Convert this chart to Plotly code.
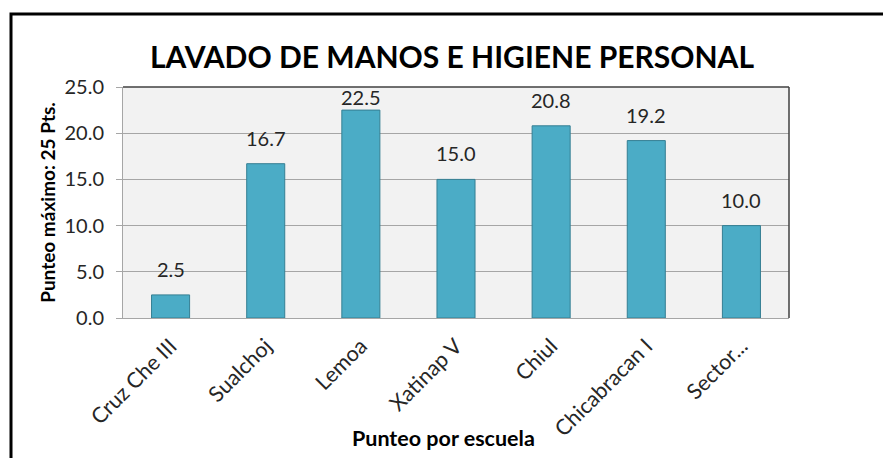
import plotly.graph_objects as go

categories = ["Cruz Che III", "Sualchoj", "Lemoa", "Xatinap V", "Chiul", "Chicabracan I", "Sector..."]
values = [2.5, 16.7, 22.5, 15.0, 20.8, 19.2, 10.0]
y_ticks = [0, 5, 10, 15, 20, 25]

W, H = 883, 458
L, R, T, B = 123, 94, 87, 140
pw, ph = W - L - R, H - T - B
YMAX = 25

def px_x(p):
    return (p - L) / pw

def px_y(p):
    return (H - B - p) / ph

FONT = "Lato, Carlito, Calibri, sans-serif"

fig = go.Figure()
fig.add_trace(go.Bar(
    x=categories, y=values,
    marker=dict(color="#4BACC6", line=dict(color="#357F93", width=1)),
    width=0.4,
))

LABEL_GAP, LABEL_H = 12, 26
threshold = YMAX - (LABEL_GAP + LABEL_H) / ph * YMAX
for c, v in zip(categories, values):
    if v > threshold:
        fig.add_annotation(x=c, y=YMAX, text=f"{v:.1f}", showarrow=False,
                           yanchor="top", yshift=4,
                           font=dict(family=FONT, size=20, color="#262626"))
    else:
        fig.add_annotation(x=c, y=v, text=f"{v:.1f}", showarrow=False,
                           yanchor="bottom", yshift=LABEL_GAP,
                           font=dict(family=FONT, size=20, color="#262626"))

# x-axis title
fig.add_annotation(text="<b>Punteo por escuela</b>", xref="paper", yref="paper",
                   x=px_x(443), y=px_y(438), xanchor="center", yanchor="middle",
                   showarrow=False,
                   font=dict(family=FONT, size=21.5, color="black"))

fig.update_layout(
    width=W, height=H,
    margin=dict(l=L, r=R, t=T, b=B),
    paper_bgcolor="white",
    plot_bgcolor="#F2F2F2",
    showlegend=False,
    title=dict(text="<b>LAVADO DE MANOS E HIGIENE PERSONAL</b>",
               x=(452) / W, xanchor="center", y=1 - 57 / H, yanchor="middle",
               font=dict(family=FONT, size=30, color="black")),
    font=dict(family=FONT),
)

fig.update_yaxes(
    range=[0, YMAX], tickvals=y_ticks, ticktext=[f"{t:.1f}" for t in y_ticks],
    showgrid=True, gridcolor="#A6A6A6", gridwidth=1,
    showline=True, linecolor="#A6A6A6", linewidth=1,
    ticks="outside", ticklen=6, tickcolor="#A6A6A6",
    ticklabelstandoff=8,
    tickfont=dict(family=FONT, size=20, color="#262626"),
    zeroline=False,
    title=dict(text="<b>Punteo máximo: 25 Pts.</b>", standoff=3,
               font=dict(family=FONT, size=19, color="black")),
)
fig.update_xaxes(
    tickangle=-45,
    showline=True, linecolor="#A6A6A6", linewidth=1,
    ticklabelstandoff=6,
    tickfont=dict(family=FONT, size=21.5, color="#262626"),
)

# plot-area top and right edges
fig.add_shape(type="line", xref="paper", yref="paper", x0=0, x1=1, y0=1, y1=1,
              line=dict(color="#404040", width=1.5))
fig.add_shape(type="line", xref="paper", yref="paper", x0=1, x1=1, y0=0, y1=1,
              line=dict(color="#404040", width=1.5))
# outer chart border
fig.add_shape(type="rect", xref="paper", yref="paper",
              x0=px_x(11), x1=px_x(890), y0=px_y(470), y1=px_y(14),
              line=dict(color="black", width=3))

fig.write_html("out.html", config={"displayModeBar": False},
               post_script="document.body.style.margin='0';")
